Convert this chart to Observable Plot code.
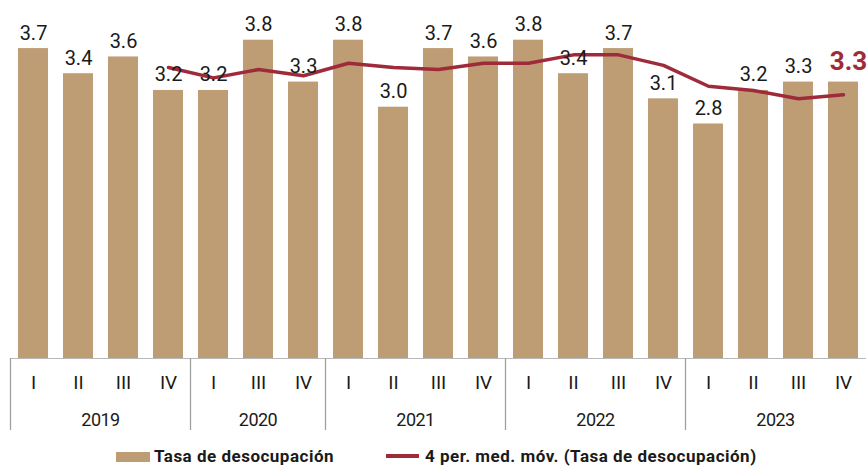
<!DOCTYPE html>
<html><head><meta charset="utf-8">
<script src="https://cdn.jsdelivr.net/npm/d3@7"></script>
<script src="https://cdn.jsdelivr.net/npm/@observablehq/plot@0.6"></script>
<style>
body{margin:0;background:#fff;font-family:Roboto,sans-serif;}
#wrap{position:relative;width:867px;height:466px;overflow:hidden;background:#fff}
#wrap svg{display:block}
.lg{position:absolute;top:446px;height:20px;line-height:20px;font:bold 17px Roboto,sans-serif;letter-spacing:0.5px;color:#1a1a1a;white-space:nowrap}
.sw{position:absolute;}
</style></head><body><div id="wrap"></div>
<script>
const years = ["2019","2019","2019","2019","2020","2020","2020","2021","2021","2021","2021","2022","2022","2022","2022","2023","2023","2023","2023"];
const quarters = ["I","II","III","IV","I","III","IV","I","II","III","IV","I","II","III","IV","I","II","III","IV"];
const unemployment = [3.7,3.4,3.6,3.2,3.2,3.8,3.3,3.8,3.0,3.7,3.6,3.8,3.4,3.7,3.1,2.8,3.2,3.3,3.3];
const movingAvg = [null,null,null,3.475,3.35,3.45,3.375,3.525,3.475,3.45,3.525,3.525,3.625,3.625,3.5,3.25,3.2,3.1,3.15];
const seriesNames = ["Tasa de desocupación","4 per. med. móv. (Tasa de desocupación)"];

const barColor = "#be9c74", lineColor = "#9e2a3a";
const rows = quarters.map((q,i)=>({key:`${years[i]}-${q}`, q, year:years[i], v:unemployment[i], ma:movingAvg[i]}));
const last = rows.length-1;

const chart = Plot.plot({
  width:867, height:440, marginLeft:11, marginRight:1, marginTop:0, marginBottom:82,
  style:{fontFamily:"Roboto, sans-serif", background:"#fff", overflow:"visible"},
  x:{type:"band", domain:rows.map(d=>d.key), paddingInner:0.33, paddingOuter:0.165, axis:null, label:null},
  y:{domain:[0,4.274], axis:null},
  marks:[
    Plot.barY(rows,{x:"key", y:"v", fill:barColor}),
    Plot.ruleY([0],{stroke:"#b8b8b8", strokeWidth:1}),
    Plot.lineY(rows.filter(d=>d.ma!=null),{x:"key", y:"ma", stroke:lineColor, strokeWidth:3.5}),
    Plot.text(rows.filter((d,i)=>i<last),{x:"key", y:"v", text:d=>d.v.toFixed(1), lineAnchor:"bottom", dy:-9, fontSize:20, fill:"#1a1a1a", style:"letter-spacing:-1px"}),
    Plot.text([rows[last]],{x:"key", y:"v", text:d=>d.v.toFixed(1), lineAnchor:"bottom", dy:-12, dx:5, fontSize:26, fontWeight:"bold", fill:lineColor}),
    Plot.axisX({tickSize:0, tickPadding:17, tickFormat:k=>k.split("-")[1], fontSize:19, fill:"#1a1a1a", label:null})
  ]
});
document.getElementById("wrap").appendChild(chart);

// year groups: separators and labels placed via Plot's scales
const xs = chart.scale("x"), ys = chart.scale("y");
const gap = (xs.step - xs.bandwidth)/2;
const y0 = ys.apply(0);
const svg = d3.select(chart);
const groups = d3.groups(rows, d=>d.year);
groups.forEach(([yr, arr])=>{
  const x0 = xs.apply(arr[0].key) - gap;
  const x1 = xs.apply(arr[arr.length-1].key) + xs.bandwidth + gap;
  svg.append("line").attr("x1",x0).attr("x2",x0).attr("y1",y0).attr("y2",y0+72).attr("stroke","#a0a0a0").attr("stroke-width",1.3);
  svg.append("text").attr("x",(x0+x1)/2).attr("y",y0+68).attr("text-anchor","middle")
    .attr("font-size",18).attr("font-family","Roboto, sans-serif").attr("fill","#1a1a1a").attr("letter-spacing","-0.5px").text(yr);
});

// legend
const wrap = document.getElementById("wrap");
wrap.insertAdjacentHTML("beforeend",
  `<div class="sw" style="left:116px;top:452px;width:34px;height:10px;background:${barColor}"></div>
   <div class="lg" style="left:154px">${seriesNames[0]}</div>
   <div class="sw" style="left:386px;top:454px;width:33px;height:3.5px;background:${lineColor}"></div>
   <div class="lg" style="left:425px">${seriesNames[1]}</div>`);
</script></body></html>
